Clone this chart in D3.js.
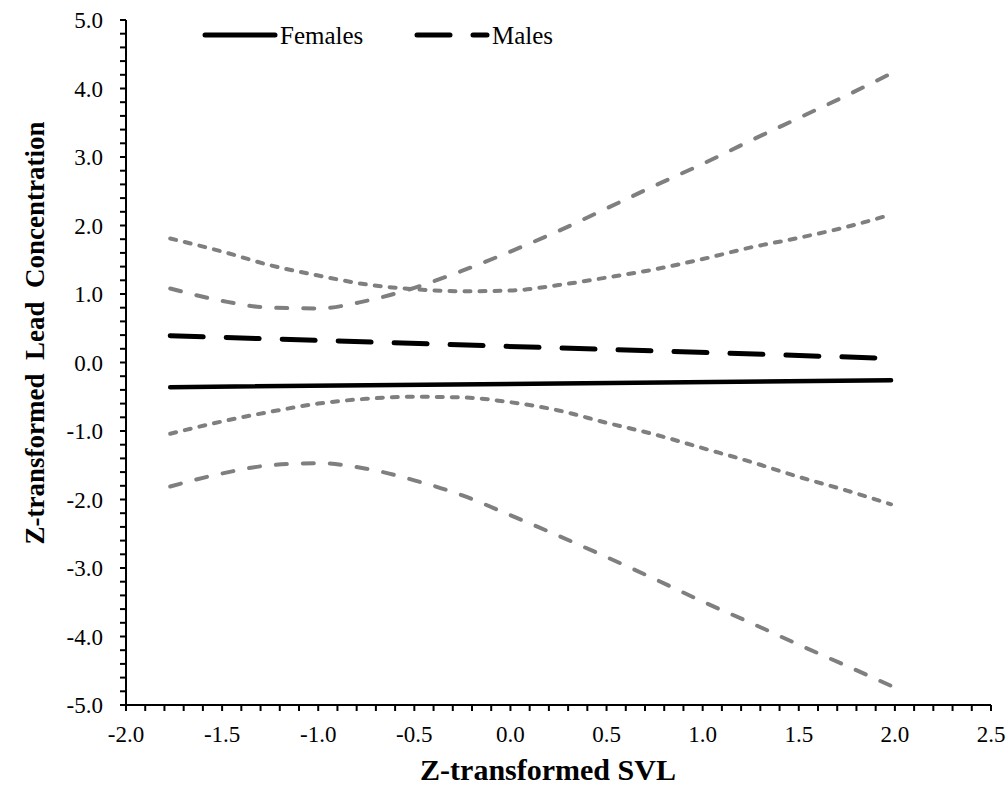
<!DOCTYPE html>
<html>
<head>
<meta charset="utf-8">
<script src="https://cdn.jsdelivr.net/npm/d3@7"></script>
<style>
  html, body { margin: 0; padding: 0; background: #fff; }
  svg { display: block; }
</style>
</head>
<body>
<svg id="chart" width="1008" height="795" font-family="'Liberation Serif', 'Times New Roman', serif"></svg>
<script>
// Predictor grid (z-transformed snout-vent length)
const svl = [-1.77, -1.5, -1.25, -1.0, -0.75, -0.5, -0.25, 0.0, 0.25, 0.5, 0.75, 1.0, 1.25, 1.5, 1.75, 1.98];

// Fitted regression lines (end points)
const fitX = [-1.77, 1.98];
const femalesFit = [-0.36, -0.26];
const malesFit = [0.39, 0.06];

// 95% confidence bands, females
const femalesUpper = [1.81, 1.62, 1.42, 1.27, 1.14, 1.07, 1.04, 1.05, 1.13, 1.24, 1.36, 1.51, 1.68, 1.82, 1.98, 2.16];
const femalesLower = [-1.04, -0.86, -0.72, -0.60, -0.53, -0.50, -0.51, -0.58, -0.70, -0.88, -1.05, -1.25, -1.45, -1.67, -1.87, -2.07];

// 95% confidence bands, males
const malesUpper = [1.08, 0.90, 0.80, 0.79, 0.90, 1.09, 1.34, 1.62, 1.92, 2.25, 2.58, 2.90, 3.24, 3.57, 3.90, 4.22];
const malesLower = [-1.81, -1.62, -1.50, -1.47, -1.55, -1.72, -1.94, -2.23, -2.53, -2.84, -3.16, -3.49, -3.80, -4.12, -4.43, -4.72];

// Axis ticks
const xTicks = [-2.0, -1.5, -1.0, -0.5, 0.0, 0.5, 1.0, 1.5, 2.0, 2.5];
const yTicks = [5, 4, 3, 2, 1, 0, -1, -2, -3, -4, -5];

const FONT = "'Liberation Serif', 'Times New Roman', serif";
const svg = d3.select("#chart");
const x = d3.scaleLinear().domain([-2, 2.5]).range([126, 991]);
const y = d3.scaleLinear().domain([-5, 5]).range([705, 20]);

// minor ticks
const xMinor = d3.range(-20, 26).map(d => d / 10);
const yMinor = d3.range(-25, 26).map(d => d / 5);

const fmt = d => d3.format(".1f")(d).replace("\u2212", "-");

// X axis
const gx = svg.append("g").attr("transform", `translate(0,${y(-5)})`);
gx.append("line").attr("x1", x(-2)).attr("x2", x(2.5)).attr("stroke", "#000").attr("stroke-width", 2);
gx.selectAll("line.minor").data(xMinor).join("line")
  .attr("class", "minor")
  .attr("x1", d => x(d)).attr("x2", d => x(d))
  .attr("y1", 0).attr("y2", 6)
  .attr("stroke", "#000").attr("stroke-width", 2);
gx.selectAll("text").data(xTicks).join("text")
  .attr("x", d => x(d)).attr("y", 37)
  .attr("text-anchor", "middle")
  .attr("font-family", FONT)
  .attr("font-size", 23)
  .text(fmt);

// Y axis
const gy = svg.append("g").attr("transform", `translate(${x(-2)},0)`);
gy.append("line").attr("y1", y(5)).attr("y2", y(-5)).attr("stroke", "#000").attr("stroke-width", 2);
gy.selectAll("line.minor").data(yMinor).join("line")
  .attr("class", "minor")
  .attr("x1", -6).attr("x2", 0)
  .attr("y1", d => y(d)).attr("y2", d => y(d))
  .attr("stroke", "#000").attr("stroke-width", 2);
gy.selectAll("text").data(yTicks).join("text")
  .attr("x", -23).attr("y", d => y(d) + 8)
  .attr("text-anchor", "end")
  .attr("font-family", FONT)
  .attr("font-size", 23)
  .text(fmt);

// Axis titles
svg.append("text")
  .attr("x", 548).attr("y", 780)
  .attr("text-anchor", "middle")
  .attr("font-family", FONT)
  .attr("font-size", 30).attr("font-weight", "bold")
  .text("Z-transformed SVL");

svg.append("text")
  .attr("transform", `translate(44,333) rotate(-90)`)
  .attr("text-anchor", "middle")
  .attr("font-family", FONT)
  .attr("font-size", 27).attr("font-weight", "bold")
  .style("white-space", "pre")
  .text("Z-transformed  Lead  Concentration");

// Lines
const line = d3.line().x(d => x(d[0])).y(d => y(d[1])).curve(d3.curveMonotoneX);
const zip = (xs, ys) => xs.map((v, i) => [v, ys[i]]);

const plot = svg.append("g");

const bandStyles = [
  { data: femalesUpper, dash: "6,9" },
  { data: femalesLower, dash: "6,9" },
  { data: malesUpper, dash: "11,16" },
  { data: malesLower, dash: "11,16" }
];
bandStyles.forEach(b => {
  plot.append("path")
    .attr("d", line(zip(svl, b.data)))
    .attr("fill", "none")
    .attr("stroke", "#7f7f7f")
    .attr("stroke-width", 4)
    .attr("stroke-linecap", "round")
    .attr("stroke-dasharray", b.dash);
});

plot.append("path")
  .attr("d", line(zip(fitX, malesFit)))
  .attr("fill", "none").attr("stroke", "#000")
  .attr("stroke-width", 5).attr("stroke-linecap", "round")
  .attr("stroke-dasharray", "33,23");

plot.append("path")
  .attr("d", line(zip(fitX, femalesFit)))
  .attr("fill", "none").attr("stroke", "#000")
  .attr("stroke-width", 4.5).attr("stroke-linecap", "round");

// Legend
const legend = svg.append("g");
const legendItems = [
  { label: "Females", x0: 205, x1: 275, dash: null },
  { label: "Males", x0: 417, x1: 487, dash: "33,23" }
];
legendItems.forEach(it => {
  legend.append("line")
    .attr("x1", it.x0).attr("x2", it.x1).attr("y1", 35).attr("y2", 35)
    .attr("stroke", "#000").attr("stroke-width", 5)
    .attr("stroke-linecap", "round")
    .attr("stroke-dasharray", it.dash);
  legend.append("text")
    .attr("x", it.x1 + 5).attr("y", 44)
    .attr("font-family", FONT)
    .attr("font-size", 25)
    .text(it.label);
});
</script>
</body>
</html>
